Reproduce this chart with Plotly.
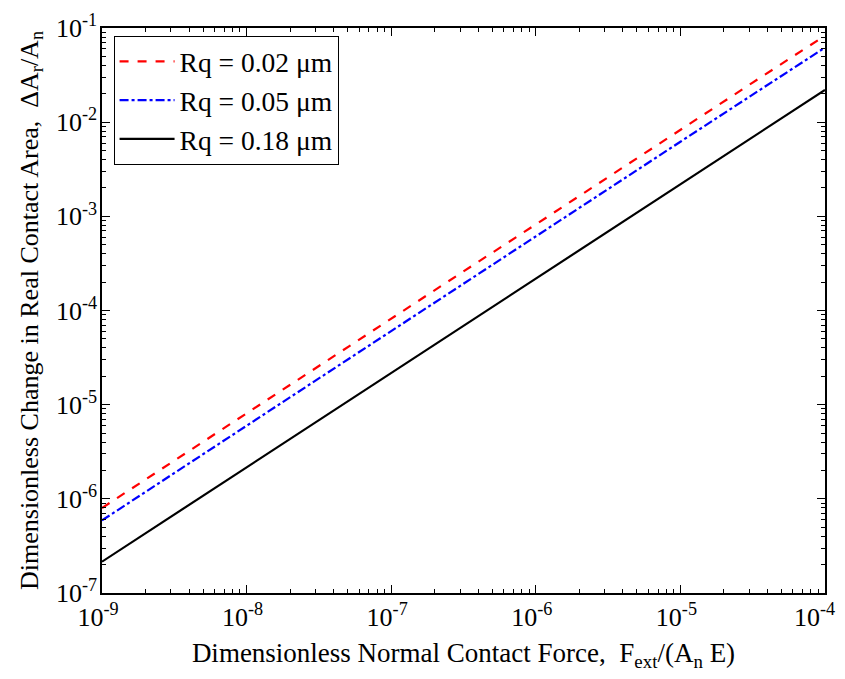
import plotly.graph_objects as go

force = [1e-9, 3.16e-9, 1e-8, 3.16e-8, 1e-7, 3.16e-7, 1e-6, 3.16e-6, 1e-5, 3.16e-5, 1e-4]
area_002 = [8.0e-7, 2.55e-6, 8.1e-6, 2.58e-5, 8.2e-5, 2.6e-4, 8.2e-4, 2.62e-3, 8.3e-3, 2.63e-2, 8.3e-2]
area_005 = [5.9e-7, 1.88e-6, 6.0e-6, 1.92e-5, 6.1e-5, 1.93e-4, 6.1e-4, 1.95e-3, 6.2e-3, 1.96e-2, 6.2e-2]
area_018 = [2.15e-7, 6.8e-7, 2.15e-6, 6.85e-6, 2.17e-5, 6.9e-5, 2.18e-4, 6.9e-4, 2.19e-3, 6.95e-3, 2.2e-2]
series_names = ["Rq = 0.02 \u03bcm", "Rq = 0.05 \u03bcm", "Rq = 0.18 \u03bcm"]

x_exps = [-9, -8, -7, -6, -5, -4]
y_exps = [-7, -6, -5, -4, -3, -2, -1]
x_ticktext = ["10<sup>-9</sup>", "10<sup>-8</sup>", "10<sup>-7</sup>", "10<sup>-6</sup>",
              "10<sup>-5</sup>", "10<sup>-4</sup>\u00a0\u00a0"]
y_ticktext = ["10<sup>%d</sup>" % e for e in y_exps]

def minor_vals(exps):
    vals = []
    for e in exps[:-1]:
        for m in range(2, 10):
            vals.append(m * 10.0 ** e)
    return vals

font_family = "Liberation Serif, Times New Roman, serif"

fig = go.Figure()
fig.add_trace(go.Scatter(x=force, y=area_002, mode="lines", name=series_names[0],
                         line=dict(color="#ff0000", width=2.2, dash="dash")))
fig.add_trace(go.Scatter(x=force, y=area_005, mode="lines", name=series_names[1],
                         line=dict(color="#0000ff", width=2.2, dash="dashdot")))
fig.add_trace(go.Scatter(x=force, y=area_018, mode="lines", name=series_names[2],
                         line=dict(color="#000000", width=2.2)))

axis_common = dict(
    type="log", showgrid=False, zeroline=False, showline=True, linecolor="black",
    linewidth=1.5, mirror="ticks", ticks="inside", ticklen=8, tickwidth=1,
    tickcolor="black", tickmode="array", automargin=False,
    ticklabeloverflow="allow",
    tickfont=dict(family=font_family, size=26, color="black"),
)

fig.update_xaxes(
    **axis_common,
    range=[-9, -4],
    tickvals=[10.0 ** e for e in x_exps],
    ticktext=x_ticktext,
    ticklabelshift=-4,
    minor=dict(ticks="inside", ticklen=4, tickcolor="black", tickmode="array",
               tickvals=minor_vals(x_exps), showgrid=False),
    title=dict(text="Dimensionless Normal Contact Force,  F<sub>ext</sub>/(A<sub>n</sub> E)",
               font=dict(family=font_family, size=27, color="black"), standoff=12),
)
fig.update_yaxes(
    **axis_common,
    range=[-7, -1],
    tickvals=[10.0 ** e for e in y_exps],
    ticktext=y_ticktext,
    ticklabelstandoff=-2,
    minor=dict(ticks="inside", ticklen=4, tickcolor="black", tickmode="array",
               tickvals=minor_vals(y_exps), showgrid=False),
    title=dict(text="Dimensionless Change in Real Contact Area,  \u0394A<sub>r</sub>/A<sub>n</sub>",
               font=dict(family=font_family, size=26, color="black"), standoff=10),
)

# the page body adds an 8px offset, so the figure is sized to end at the window edge
fig.update_layout(
    width=837, height=671,
    margin=dict(l=94, r=20, t=20, b=86),
    paper_bgcolor="white", plot_bgcolor="white",
    font=dict(family=font_family, color="black"),
    showlegend=True,
    legend=dict(x=0.016, y=0.986, xanchor="left", yanchor="top",
                bgcolor="white", bordercolor="black", borderwidth=1,
                font=dict(family=font_family, size=27.5, color="black"),
                itemwidth=55, tracegroupgap=0),
)

fig.write_html("out.html")
